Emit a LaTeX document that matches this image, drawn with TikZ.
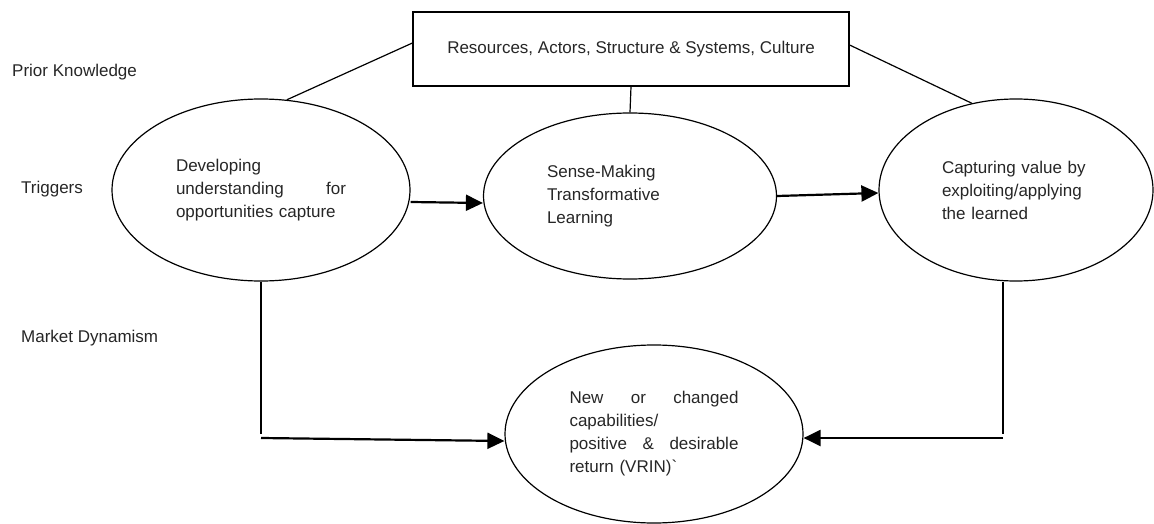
\documentclass[tikz,border=0pt]{standalone}
\usepackage{fontspec}
\setmainfont{Liberation Sans}
\usetikzlibrary{shapes.geometric,arrows.meta}
\begin{document}
\begin{tikzpicture}[x=1pt,y=-1pt,
    every node/.style={font=\fontsize{17}{23}\selectfont, text=black!85},
    oval/.style={draw, ellipse, line width=1.2pt, inner sep=0pt, align=left},
    sidelabel/.style={anchor=west, inner sep=0pt},
    flow/.style={line width=2.2pt, -{Triangle[length=17pt,width=16pt]}}]
      \useasboundingbox (0,0) rectangle (1154,524);
      \draw
        (12,72) node[sidelabel] (prior){Prior Knowledge}
        (21,189) node[sidelabel] (trig){Triggers}
        (21,338) node[sidelabel] (market){Market Dynamism}
        (631,49) node[draw, line width=1.2pt, minimum width=436pt, minimum height=74pt] (res){Resources, Actors, Structure \& Systems, Culture}
        (261,190) node[oval, minimum width=298pt, minimum height=182pt, text width=170pt] (dev){Developing\\ understanding\hfill for\\ opportunities capture}
        (630,196) node[oval, minimum width=293pt, minimum height=166pt, text width=166pt] (sense){Sense-Making\\ Transformative\\ Learning}
        (1016,190) node[oval, minimum width=274pt, minimum height=182pt, text width=148pt] (capt){Capturing value by\\ exploiting/applying\\ the learned}
        (654,434) node[oval, minimum width=298pt, minimum height=178pt, text width=169pt] (newcap){New\hfill or\hfill changed\\ capabilities/\\ positive\hfill \&\hfill desirable\\ return (VRIN)\textasciigrave};
      \coordinate (lbend) at (dev.south |- newcap.west);
      \coordinate (rbend) at ([xshift=-13pt]capt.south |- newcap.west);
      \begin{scope}[line width=1.2pt]
        \draw ([yshift=6pt]res.west) to (dev.74);
        \draw (res.south) to (sense.north);
        \draw ([yshift=4pt]res.east) to (capt.117);
        \draw (dev.south) to (lbend);
        \draw ([xshift=-13pt]capt.south) to (rbend);
        \draw[flow] ([yshift=-12pt]dev.east) to ([yshift=-7pt]sense.west);
        \draw[flow] (sense.east) to ([yshift=-3pt]capt.west);
        \draw[flow] ([yshift=-4pt]lbend) to ([yshift=-7pt]newcap.west);
        \draw[flow] ([yshift=-4pt]rbend) to ([yshift=-4pt]newcap.east);
      \end{scope}
    \end{tikzpicture}
\end{document}
